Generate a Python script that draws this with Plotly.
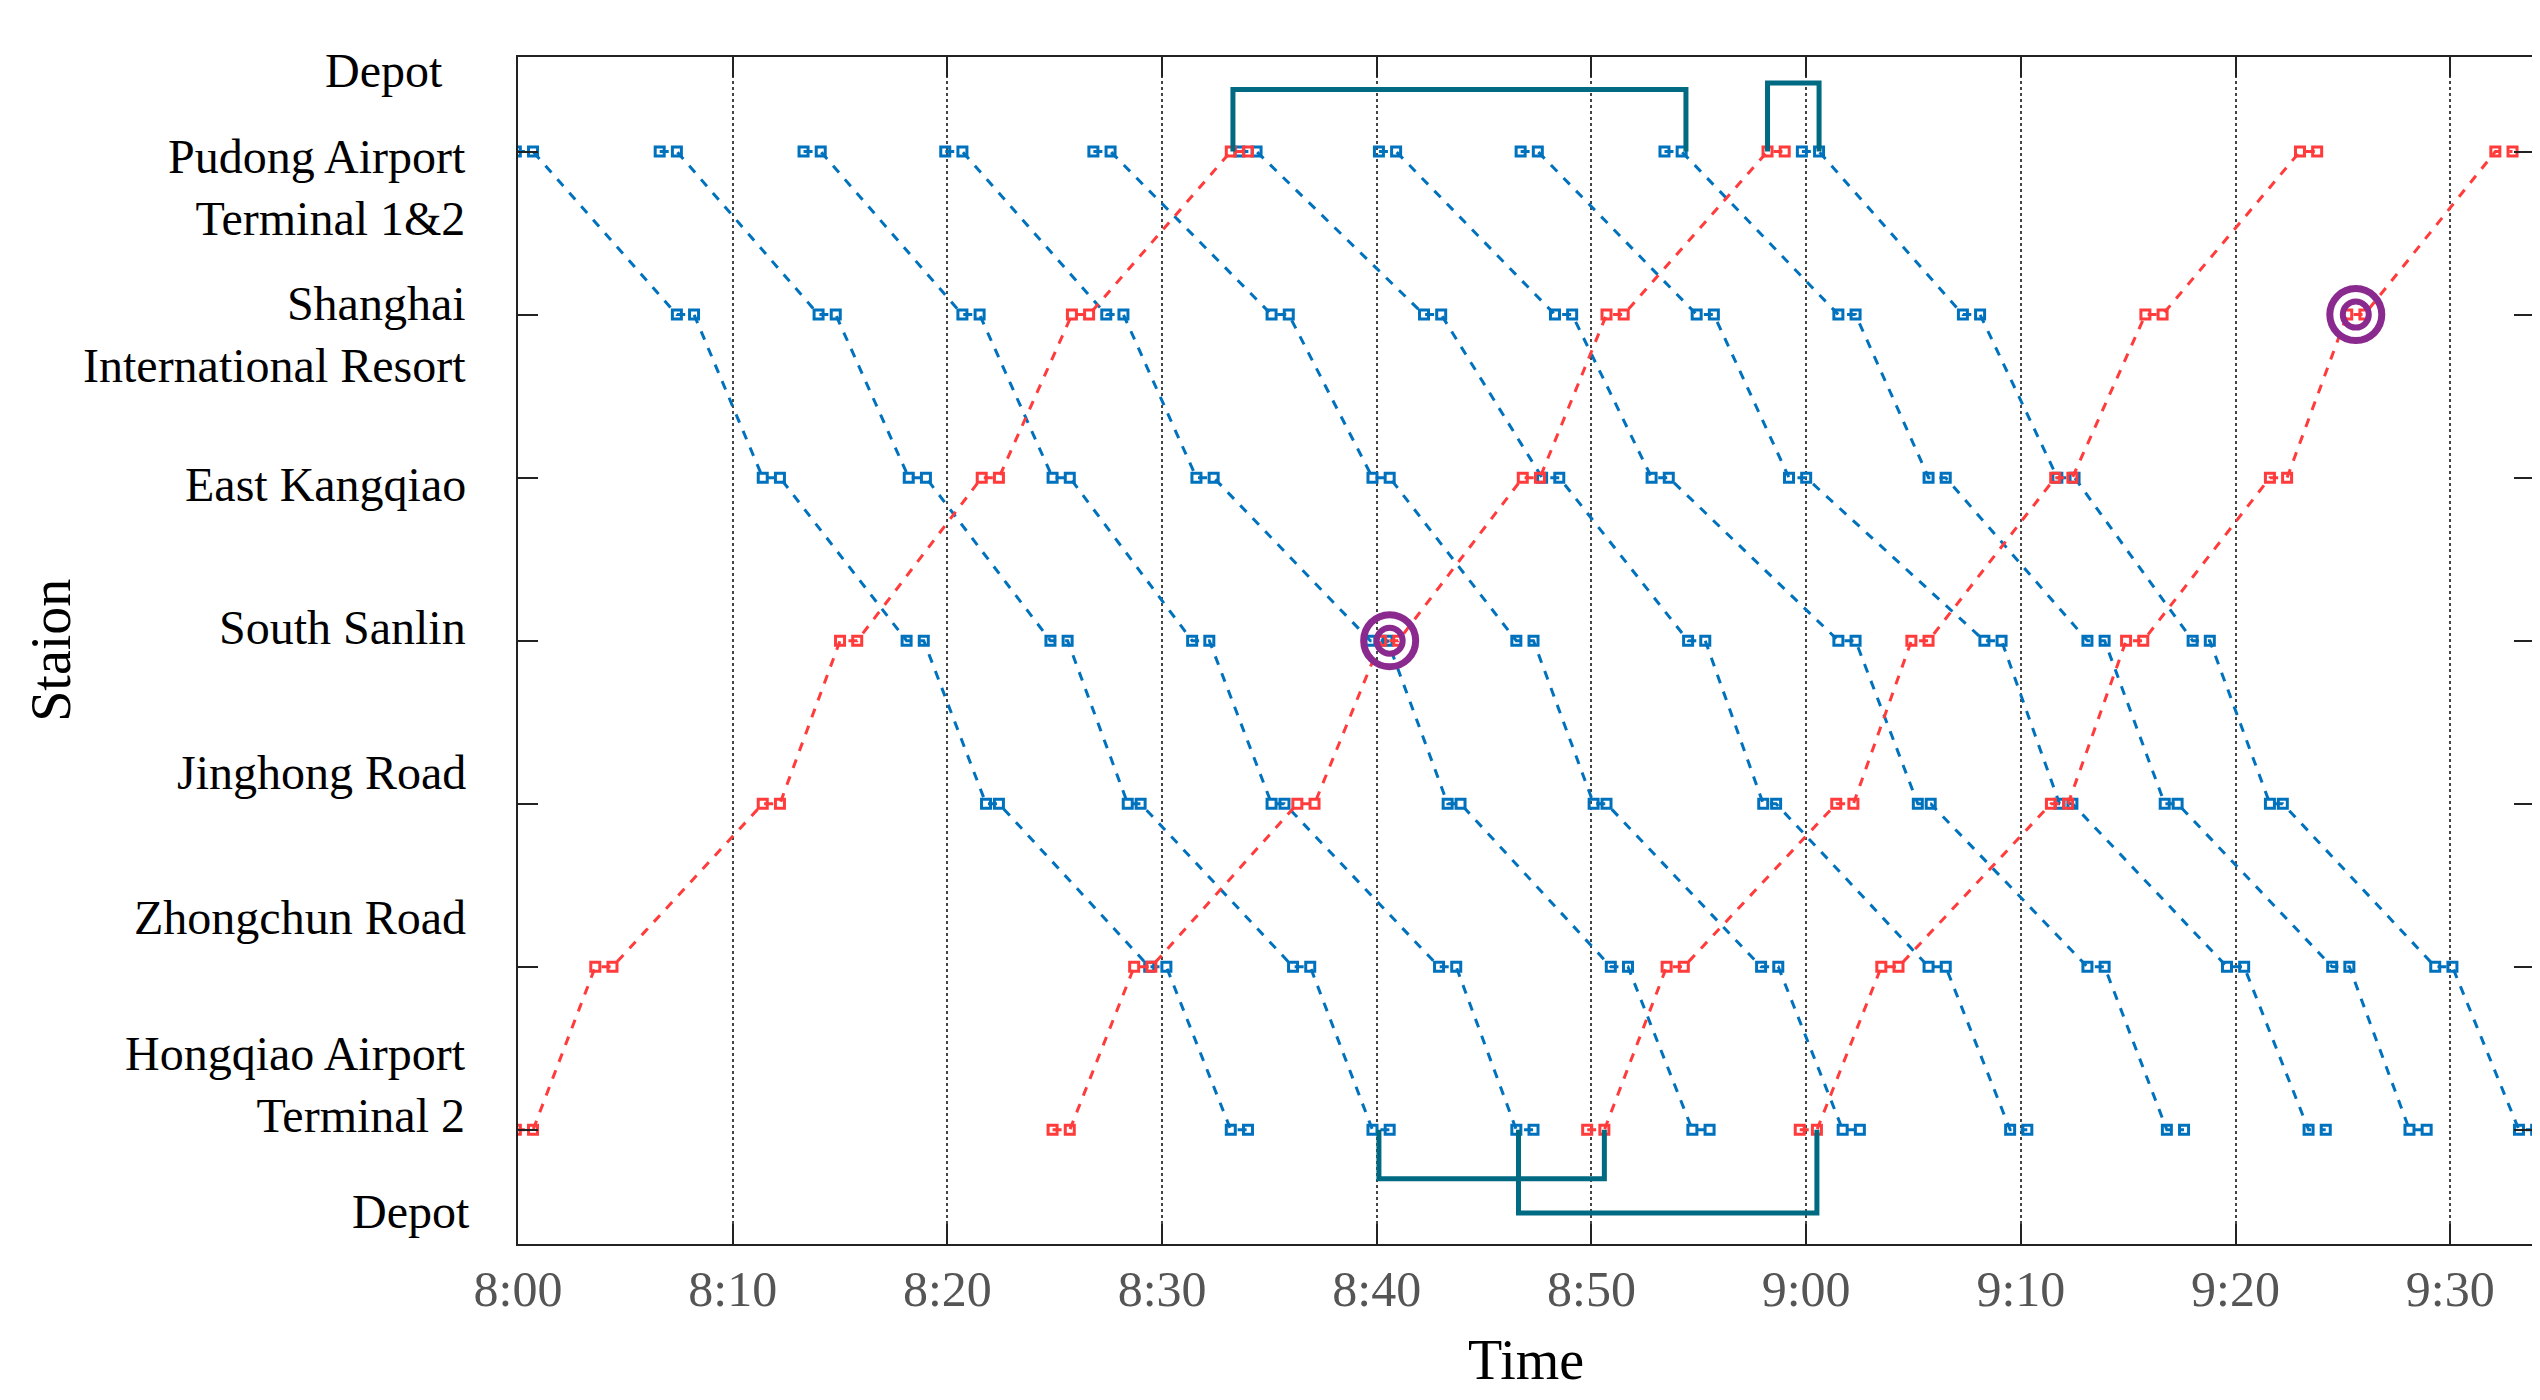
import plotly.graph_objects as go

# Station order from bottom (Hongqiao) to top (Pudong); y positions 1..7
station_names = ["Hongqiao Airport<br>Terminal 2", "Zhongchun Road", "Jinghong Road",
                 "South Sanlin", "East Kangqiao", "Shanghai<br>International Resort",
                 "Pudong Airport<br>Terminal 1&2"]
station_y = [1, 2, 3, 4, 5, 6, 7]
depot_top_y = 7.5
depot_bottom_y = 0.5

# Down trains (blue): stop times (minutes after 8:00), stations P,S,E,SS,J,Z,H
down_arr = [
    [-0.1, 7.4, 11.4, 18.1, 21.8, 29.4, 33.2],
    [6.6, 14.0, 18.2, 24.8, 28.4, 36.1, 39.8],
    [13.3, 20.7, 24.9, 31.4, 35.1, 42.9, 46.5],
    [19.9, 27.4, 31.6, 39.7, 43.3, 50.9, 54.7],
    [26.8, 35.1, 39.8, 46.5, 50.1, 57.9, 61.7],
    [33.6, 42.2, 47.7, 54.5, 58.0, 65.7, 69.5],
    [40.1, 48.3, 52.8, 61.5, 65.2, 73.1, 76.8],
    [46.7, 54.9, 59.2, 68.3, 71.8, 79.6, 83.4],
    [53.4, 61.5, 65.7, 73.1, 76.7, 84.5, 88.1],
    [59.8, 67.3, 71.7, 78.0, 81.6, 89.3, 93.2],
]
down_dep = [
    [0.7, 8.2, 12.2, 18.9, 22.4, 30.2, 34.0],
    [7.4, 14.8, 19.0, 25.6, 29.0, 36.9, 40.6],
    [14.1, 21.5, 25.7, 32.2, 35.7, 43.7, 47.3],
    [20.7, 28.2, 32.4, 40.5, 43.9, 51.7, 55.5],
    [27.6, 35.9, 40.6, 47.3, 50.7, 58.7, 62.5],
    [34.4, 43.0, 48.5, 55.3, 58.6, 66.5, 70.3],
    [40.9, 49.1, 53.6, 62.3, 65.8, 73.9, 77.6],
    [47.5, 55.7, 60.0, 69.1, 72.4, 80.4, 84.2],
    [54.2, 62.3, 66.5, 73.9, 77.3, 85.3, 88.9],
    [60.6, 68.1, 72.5, 78.8, 82.2, 90.1, 94.0],
]
down_y = [7, 6, 5, 4, 3, 2, 1]

# Up trains (red): stations H,Z,J,SS,E,S,P
up_arr = [
    [-0.1, 3.6, 11.4, 15.0, 21.6, 25.8, 33.2],
    [24.9, 28.7, 36.3, 40.2, 46.8, 50.7, 58.2],
    [49.8, 53.5, 61.4, 64.9, 71.6, 75.8, 83.0],
    [59.7, 63.5, 71.4, 74.9, 81.6, 85.2, 92.1],
]
up_dep = [
    [0.7, 4.4, 12.2, 15.8, 22.4, 26.6, 34.0],
    [25.7, 29.5, 37.1, 41.0, 47.6, 51.5, 59.0],
    [50.6, 54.3, 62.2, 65.7, 72.4, 76.6, 83.8],
    [60.5, 64.3, 72.2, 75.7, 82.4, 86.0, 92.9],
]
up_y = [1, 2, 3, 4, 5, 6, 7]

# Depot connections: [x0, x1, y_level, station_y]
depot_links = [
    [33.3, 54.4, 7.38, 7],
    [58.2, 60.6, 7.42, 7],
    [40.1, 50.6, 0.70, 1],
    [46.6, 60.5, 0.49, 1],
]

# Highlighted points
highlight_x = [40.6, 85.6]
highlight_y = [4, 6]

x_tick_vals = [0, 10, 20, 30, 40, 50, 60, 70, 80, 90]
x_tick_text = ["8:00", "8:10", "8:20", "8:30", "8:40", "8:50", "9:00", "9:10", "9:20", "9:30"]

BLUE = "#0072BD"
RED = "#FF3B3B"
TEAL = "#006A82"
PURPLE = "#8B2A8E"
FONT = "Liberation Serif"

fig = go.Figure()

def add_train(arr, dep, ys, color):
    xs, yy = [], []
    for a, d, y in zip(arr, dep, ys):
        xs += [a, d]
        yy += [y, y]
    fig.add_trace(go.Scatter(x=xs, y=yy, mode="lines+markers",
                             line=dict(color=color, width=3, dash="dash"),
                             marker=dict(symbol="square-open", size=9, color=color,
                                         line=dict(width=3, color=color)),
                             showlegend=False))

for a, d in zip(down_arr, down_dep):
    add_train(a, d, down_y, BLUE)
for a, d in zip(up_arr, up_dep):
    add_train(a, d, up_y, RED)

for x0, x1, yl, ys in depot_links:
    fig.add_trace(go.Scatter(x=[x0, x0, x1, x1], y=[ys, yl, yl, ys], mode="lines",
                             line=dict(color=TEAL, width=5), showlegend=False))

fig.add_trace(go.Scatter(x=highlight_x, y=highlight_y, mode="markers",
                         marker=dict(symbol="circle-open", size=52, color=PURPLE,
                                     line=dict(width=7, color=PURPLE)), showlegend=False))
fig.add_trace(go.Scatter(x=highlight_x, y=highlight_y, mode="markers",
                         marker=dict(symbol="circle-open", size=26, color=PURPLE,
                                     line=dict(width=6, color=PURPLE)), showlegend=False))

# Station labels
label_y = [[1.28], [2.3], [3.19], [4.08], [4.96], [5.88], [6.78]]
annotations = []
for name, ly in zip(station_names, label_y):
    annotations.append(dict(x=-0.025, xref="paper", y=ly[0], yref="y", text=name,
                            showarrow=False, xanchor="right", yanchor="middle", align="right",
                            font=dict(family=FONT, size=48, color="black")))
annotations.append(dict(x=-0.036, xref="paper", y=depot_top_y, yref="y", text="Depot",
                        showarrow=False, xanchor="right", yanchor="middle",
                        font=dict(family=FONT, size=48, color="black")))
annotations.append(dict(x=-0.023, xref="paper", y=depot_bottom_y, yref="y", text="Depot",
                        showarrow=False, xanchor="right", yanchor="middle",
                        font=dict(family=FONT, size=48, color="black")))
annotations.append(dict(x=-0.232, xref="paper", y=0.5, yref="paper", text="Staion",
                        showarrow=False, textangle=-90, xanchor="center", yanchor="middle",
                        font=dict(family=FONT, size=56, color="black")))

fig.update_layout(
    width=2540, height=1400,
    margin=dict(l=510, r=14, t=49, b=164),
    plot_bgcolor="white", paper_bgcolor="white",
    annotations=annotations,
    xaxis=dict(range=[0, 93.9], tickvals=x_tick_vals, ticktext=x_tick_text,
               ticks="inside", ticklen=20, tickwidth=2, tickcolor="#222",
               showline=True, linecolor="#222", linewidth=2, mirror="allticks",
               showgrid=True, gridcolor="#444", griddash="dot", gridwidth=1.5,
               zeroline=False,
               tickfont=dict(family=FONT, size=50, color="#555"),
               title=dict(text="Time", font=dict(family=FONT, size=56, color="black"), standoff=24)),
    yaxis=dict(range=[0.3, 7.58], tickvals=station_y, showticklabels=False,
               ticks="inside", ticklen=20, tickwidth=2, tickcolor="#222",
               showline=True, linecolor="#222", linewidth=2, mirror="allticks",
               showgrid=False, zeroline=False),
)

fig.write_html("out.html")
